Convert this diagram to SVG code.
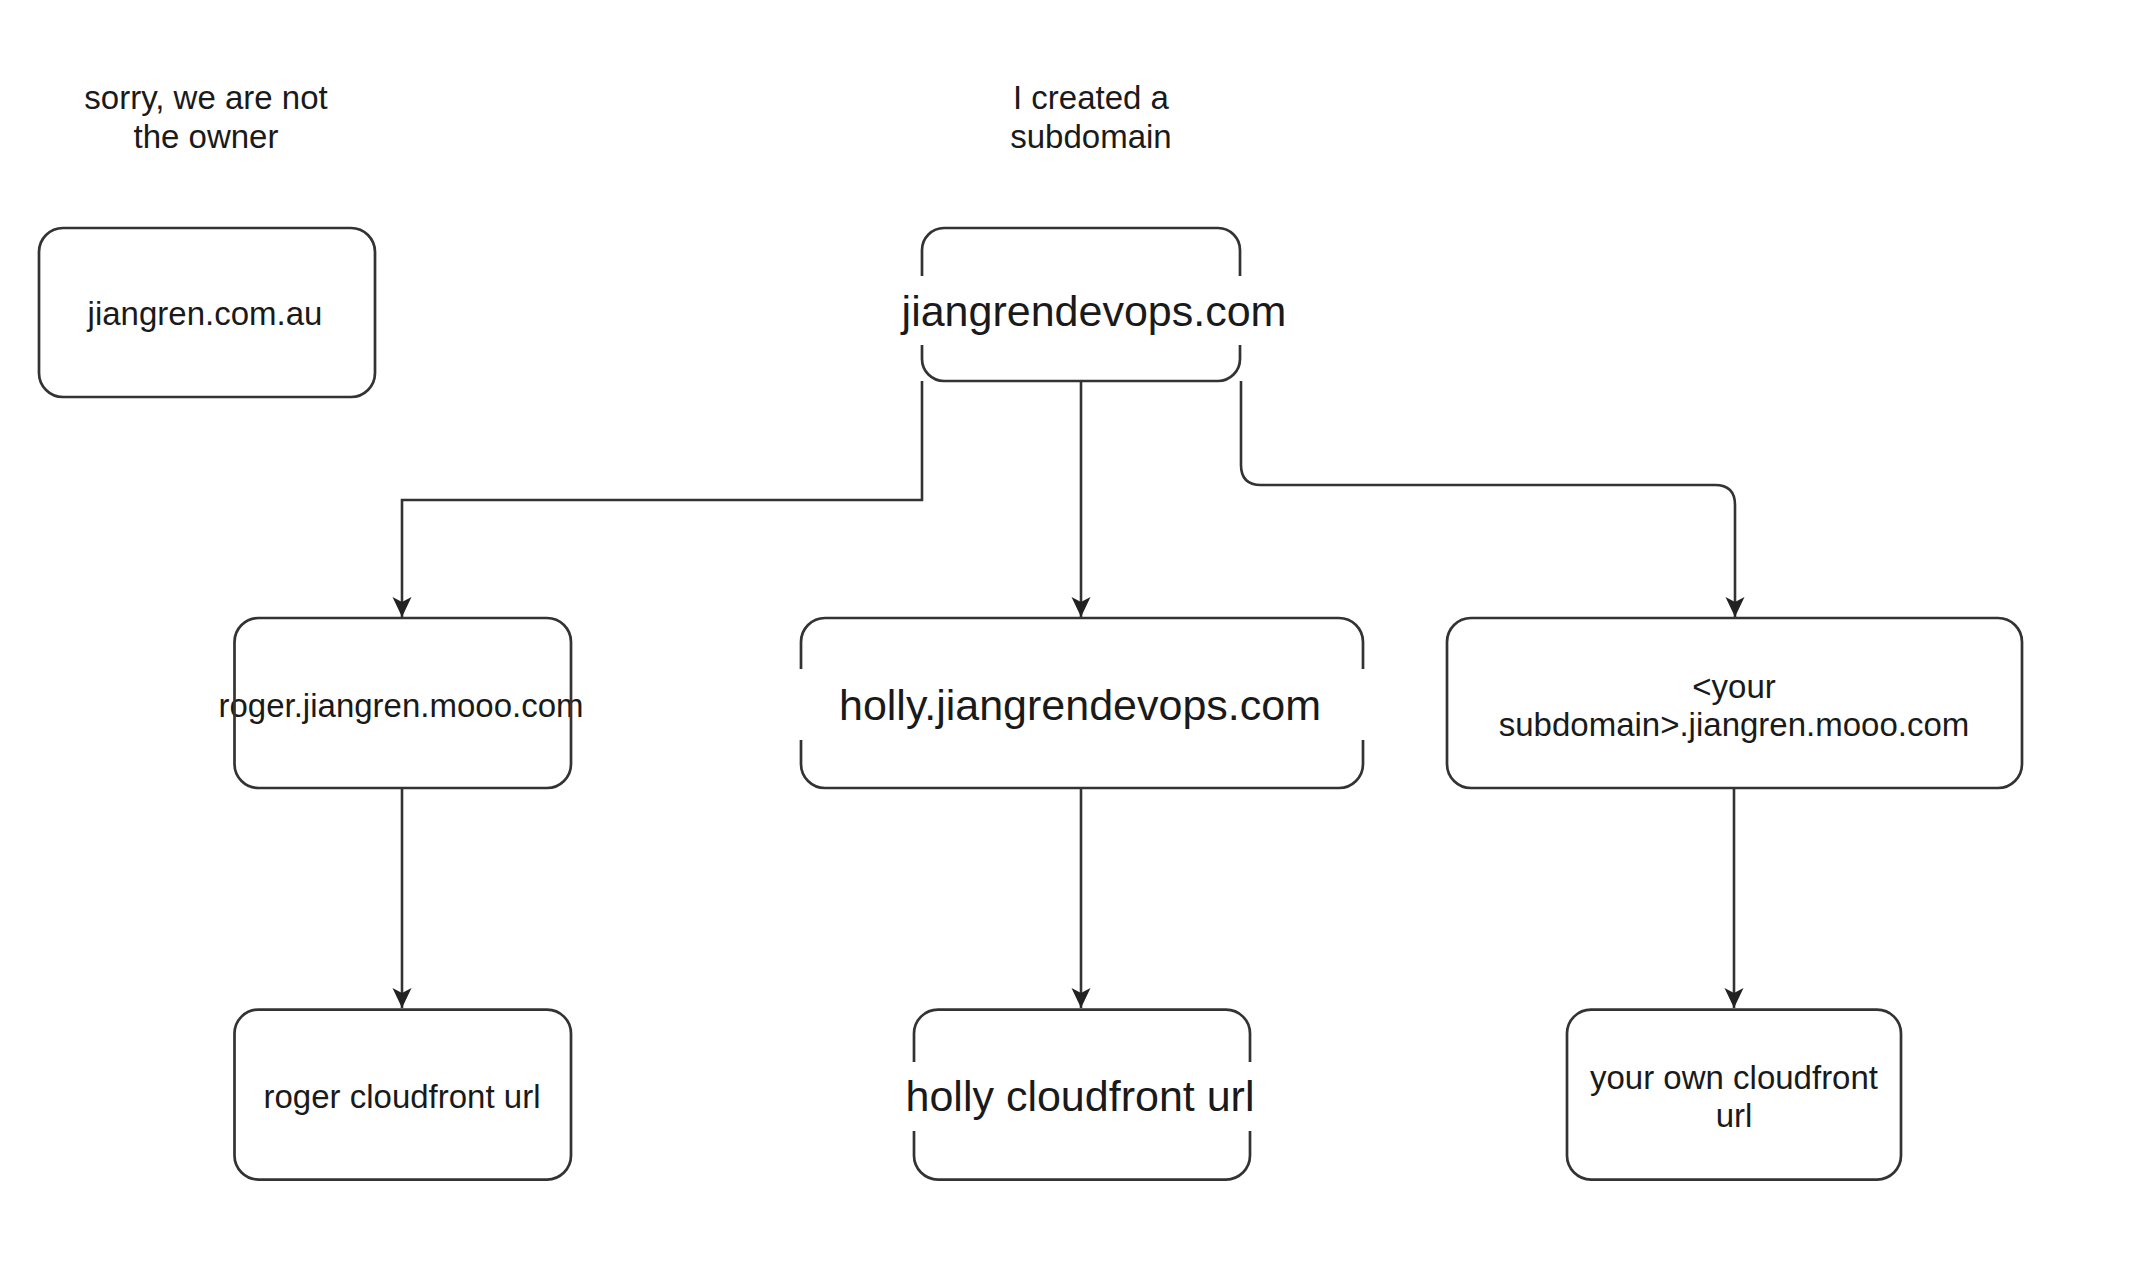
<svg xmlns="http://www.w3.org/2000/svg" width="2144" height="1274" viewBox="0 0 2144 1274">
<defs>
<style>
.box{fill:#fff;stroke:#333;stroke-width:2.7}
.gap{fill:#fff;stroke:none}
.t{font-family:"Liberation Sans",Arial,Helvetica,sans-serif;font-size:33px;fill:#1a1a1a;text-anchor:middle}
.big{font-size:43px}
.edge{fill:none;stroke:#333;stroke-width:2.6}
</style>
<marker id="arr" viewBox="0 0 20 20" refX="20" refY="10" markerWidth="20" markerHeight="20" markerUnits="userSpaceOnUse" orient="auto">
<path d="M0,0.5 L20,10 L0,19.5 L5,10 Z" fill="#222"/>
</marker>
</defs>
<rect width="2144" height="1274" fill="#fff"/>

<g id="label-sorry">
<text class="t" x="206" y="109">sorry, we are not</text>
<text class="t" x="206" y="147.5">the owner</text>
</g>
<g id="label-created">
<text class="t" x="1091" y="109">I created a</text>
<text class="t" x="1091" y="147.5">subdomain</text>
</g>

<g id="connectors">
<path class="edge" d="M922,381 V500 H402 V617" marker-end="url(#arr)"/>
<path class="edge" d="M1081,381 V617" marker-end="url(#arr)"/>
<path class="edge" d="M1241,381 V465 Q1241,485 1261,485 H1715 Q1735,485 1735,505 V617" marker-end="url(#arr)"/>
<path class="edge" d="M402,788 V1008" marker-end="url(#arr)"/>
<path class="edge" d="M1081,788 V1008" marker-end="url(#arr)"/>
<path class="edge" d="M1734,788 V1008" marker-end="url(#arr)"/>
</g>

<g id="node-jiangren-com-au">
<rect class="box" x="39" y="228" width="336" height="169" rx="24"/>
<text class="t" x="205" y="324.5">jiangren.com.au</text>
</g>

<g id="node-jiangrendevops">
<rect class="box" x="922" y="228" width="318" height="153" rx="22"/>
<rect class="gap" x="895" y="276" width="395" height="69"/>
<text class="t big" x="1094" y="326">jiangrendevops.com</text>
</g>

<g id="node-roger">
<text class="t" x="401" y="717">roger.jiangren.mooo.com</text>
<rect class="box" x="234.5" y="618" width="336.5" height="170" rx="24" style="fill:none"/>
</g>

<g id="node-holly">
<rect class="box" x="801" y="618" width="562" height="170" rx="24"/>
<rect class="gap" x="795" y="669" width="574" height="71"/>
<text class="t big" x="1080" y="720">holly.jiangrendevops.com</text>
</g>

<g id="node-your-subdomain">
<rect class="box" x="1447" y="618" width="575" height="170" rx="24"/>
<text class="t" x="1734" y="697.5">&lt;your</text>
<text class="t" x="1734" y="736">subdomain&gt;.jiangren.mooo.com</text>
</g>

<g id="node-roger-cf">
<rect class="box" x="234.5" y="1009.6" width="336.5" height="170" rx="24"/>
<text class="t" x="402" y="1108">roger cloudfront url</text>
</g>

<g id="node-holly-cf">
<rect class="box" x="914" y="1009.6" width="336" height="170" rx="24"/>
<rect class="gap" x="905" y="1062" width="354" height="69"/>
<text class="t big" x="1080" y="1111">holly cloudfront url</text>
</g>

<g id="node-your-cf">
<rect class="box" x="1567" y="1009.6" width="334" height="170" rx="24"/>
<text class="t" x="1734" y="1088.5">your own cloudfront</text>
<text class="t" x="1734" y="1127">url</text>
</g>
</svg>
